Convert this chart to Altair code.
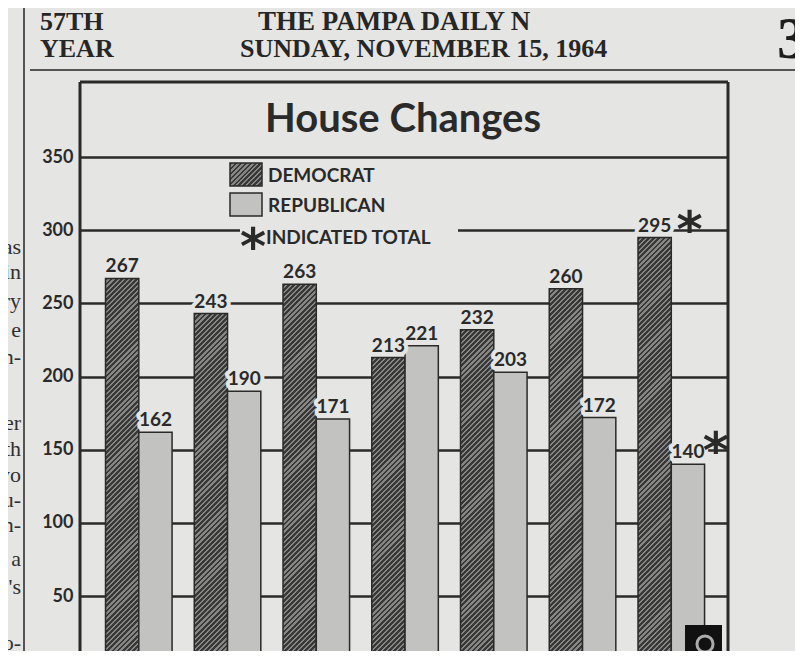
import altair as alt
import pandas as pd
import numpy as np

# ---------------- data ----------------
years = ["1940", "1944", "1948", "1952", "1956", "1960", "1964"]   # x labels are cut off in the picture
democrat = [267, 243, 263, 213, 232, 260, 295]
republican = [162, 190, 171, 221, 203, 172, 140]
indicated = [False, False, False, False, False, False, True]
y_ticks = [50, 100, 150, 200, 250, 300, 350]

# ---------------- style / layout ----------------
BG = "#e5e5e3"
INK = "#2a2a2a"
REP_FILL = "#c2c2c0"
SANS = "Lato"
SERIF = "Liberation Serif"
W, H = 648, 569
XDOM = [-0.6625, 6.639]
YDOM = [12.44, 401.28]
HALF = 0.375
PX_X = W / (XDOM[1] - XDOM[0])
PX_Y = H / (YDOM[1] - YDOM[0])

rows = []
for i in range(len(years)):
    rows.append(dict(idx=i, year=years[i], party="Democrat", value=democrat[i],
                     x0=i - HALF, x1=i, base=0, ind=indicated[i]))
    rows.append(dict(idx=i, year=years[i], party="Republican", value=republican[i],
                     x0=i, x1=i + HALF, base=0, ind=indicated[i]))
df = pd.DataFrame(rows)
df["xc"] = (df["x0"] + df["x1"]) / 2

XS = alt.Scale(domain=XDOM, nice=False, zero=False)
YS = alt.Scale(domain=YDOM, nice=False, zero=False)
YAXIS = alt.Axis(values=y_ticks, grid=True, gridColor=INK, gridWidth=2.5, ticks=False,
                 domain=False, labelFont=SANS, labelFontSize=18, labelFontWeight="bold",
                 labelColor=INK, labelPadding=7, title=None)


def yenc(field="value"):
    return alt.Y(f"{field}:Q", scale=YS, axis=YAXIS)


def hatch(w, h, period=3.6, dark="#383838", light="#868684"):
    a = (1 / h + 1 / w) / (1 / h ** 2 + 1 / w ** 2)
    n = max(1, int(round((w + h) / np.sqrt(2) / period)))
    stops = []
    for k in range(n):
        t0, tm, t1 = k / n, (k + 0.55) / n, (k + 1) / n
        stops += [{"offset": round(t0, 5), "color": dark},
                  {"offset": round(tm, 5), "color": dark},
                  {"offset": round(tm, 5), "color": light},
                  {"offset": round(t1, 5), "color": light}]
    return {"gradient": "linear", "x1": 0, "y1": 0,
            "x2": round(a / h, 6), "y2": round(a / w, 6), "stops": stops}


base = alt.Chart(df)
layers = []

# Democrat bars (hatched), one layer per bar so the hatch keeps its angle
for i, v in enumerate(democrat):
    g = hatch(HALF * PX_X, v * PX_Y)
    layers.append(
        base.transform_filter(f"datum.party == 'Democrat' && datum.idx == {i}")
        .mark_rect(fill=g, stroke=INK, strokeWidth=1.5, clip=True)
        .encode(x=alt.X("x0:Q", scale=XS, axis=None), x2="x1", y=yenc(), y2="base")
    )

# Republican bars
layers.append(
    base.transform_filter("datum.party == 'Republican'")
    .mark_rect(fill=REP_FILL, stroke=INK, strokeWidth=1.5, clip=True)
    .encode(x=alt.X("x0:Q", scale=XS, axis=None), x2="x1", y=yenc(), y2="base")
)

# value labels with a paper-coloured halo that breaks the gridlines
for halo in (True, False):
    kw = dict(stroke=BG, strokeWidth=8, strokeJoin="round", fill=BG) if halo else dict(fill=INK)
    layers.append(
        base.mark_text(font=SANS, fontSize=19, fontWeight="bold", baseline="alphabetic",
                       align="center", dy=-6, **kw)
        .encode(x=alt.X("xc:Q", scale=XS, axis=None), y=yenc(), text="value:Q")
    )

# asterisks marking indicated totals
layers.append(
    base.transform_filter("datum.ind && datum.party == 'Democrat'")
    .mark_text(text="*", font="DejaVu Sans", fontSize=50, fontWeight="bold", fill=INK,
               align="center", baseline="alphabetic", dx=35, dy=9)
    .encode(x=alt.X("xc:Q", scale=XS, axis=None), y=yenc())
)
layers.append(
    base.transform_filter("datum.ind && datum.party == 'Republican'")
    .mark_text(text="*", font="DejaVu Sans", fontSize=50, fontWeight="bold", fill=INK,
               align="center", baseline="alphabetic", dx=28, dy=4)
    .encode(x=alt.X("xc:Q", scale=XS, axis=None), y=yenc())
)

one = pd.DataFrame({"k": [0]})


def txt(text, x, y, **kw):
    return alt.Chart(one).mark_text(text=text, **kw).encode(x=alt.value(x), y=alt.value(y))


def rect(x, x2, y, y2, **kw):
    return alt.Chart(one).mark_rect(**kw).encode(
        x=alt.value(x), x2=alt.value(x2), y=alt.value(y), y2=alt.value(y2))


def rule(x, x2, y, y2, **kw):
    return alt.Chart(one).mark_rule(**kw).encode(
        x=alt.value(x), x2=alt.value(x2), y=alt.value(y), y2=alt.value(y2))


# frame of the chart box (left, top, right)
layers.append(rule(0, 0, 0, H, color=INK, strokeWidth=3))
layers.append(rule(0, W, 0, 0, color=INK, strokeWidth=3))
layers.append(rule(W, W, 0, H, color=INK, strokeWidth=3))

# title
layers.append(txt("House Changes", 323, 50, font=SANS, fontSize=40, fontWeight="bold",
                  fill=INK, align="center", baseline="alphabetic"))

# legend
layers.append(rect(150, 182, 81, 104, fill=hatch(32, 23), stroke=INK, strokeWidth=1.5))
layers.append(rect(150, 182, 111, 134, fill=REP_FILL, stroke=INK, strokeWidth=1.5))
layers.append(txt("DEMOCRAT", 188, 100, font=SANS, fontSize=19, fontWeight="bold",
                  fill=INK, align="left", baseline="alphabetic"))
layers.append(txt("REPUBLICAN", 188, 130, font=SANS, fontSize=19, fontWeight="bold",
                  fill=INK, align="left", baseline="alphabetic"))
layers.append(rect(160, 378, 143, 168, fill=BG))
layers.append(txt("*", 173, 182, font="DejaVu Sans", fontSize=50, fontWeight="bold",
                  fill=INK, align="center", baseline="alphabetic"))
layers.append(txt("INDICATED TOTAL", 186, 162, font=SANS, fontSize=19, fontWeight="bold",
                  fill=INK, align="left", baseline="alphabetic"))

# logo at bottom right
layers.append(rect(605, 642, 543, H, fill="#111111"))
layers.append(alt.Chart(one).mark_point(shape="circle", size=260, filled=False,
                                        stroke="#eeeeee", strokeWidth=3)
              .encode(x=alt.value(625), y=alt.value(562)))

# newspaper page header and neighbouring column
layers.append(txt("57TH", -40, -52, font=SERIF, fontSize=26, fontWeight="bold",
                  fill="#262626", align="left", baseline="alphabetic"))
layers.append(txt("YEAR", -40, -25, font=SERIF, fontSize=26, fontWeight="bold",
                  fill="#262626", align="left", baseline="alphabetic"))
layers.append(txt("THE PAMPA DAILY N", 178, -52, font=SERIF, fontSize=27, fontWeight="bold",
                  fill="#262626", align="left", baseline="alphabetic"))
layers.append(txt("SUNDAY, NOVEMBER 15, 1964", 160, -25, font=SERIF, fontSize=26,
                  fontWeight="bold", fill="#262626", align="left", baseline="alphabetic"))
layers.append(txt("3", 697, -24, font=SERIF, fontSize=60, fontWeight="bold",
                  fill="#1e1e1e", align="left", baseline="alphabetic"))
layers.append(rule(-50, 720, -12, -12, color="#555555", strokeWidth=2))
layers.append(rule(-56, -56, -82, H, color="#555555", strokeWidth=2))

fragments = [("as", 254), ("in", 279), ("ry", 308), ("e", 337), ("n-", 364),
             ("er", 430), ("th", 456), ("yo", 482), ("u-", 507), ("n-", 532),
             ("a", 566), ("'s", 594), ("o-", 650)]
for s, yy in fragments:
    layers.append(txt(s, -59, yy - 82, font=SERIF, fontSize=22, fill="#303030",
                      align="right", baseline="alphabetic"))

chart = alt.layer(*layers).properties(
    width=W, height=H,
    autosize=alt.AutoSizeParams(type="none"),
    padding={"left": 72, "top": 74, "right": 67, "bottom": 0},
    background=BG,
).configure_view(strokeWidth=0)

chart.save("out.html", embed_options={"renderer": "svg", "actions": False})
